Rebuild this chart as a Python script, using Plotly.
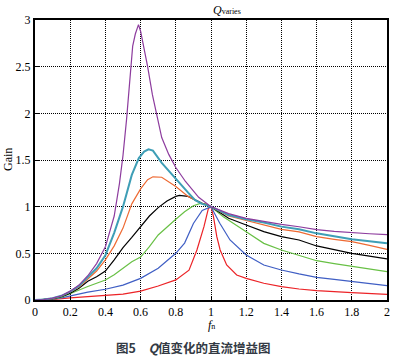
import plotly.graph_objects as go

# ---- data ----
fn_purple = [0, 0.05, 0.1, 0.15, 0.2, 0.25, 0.3, 0.35, 0.4, 0.45, 0.48, 0.5, 0.52, 0.54, 0.555, 0.57, 0.588, 0.6, 0.62, 0.64, 0.667, 0.69, 0.72, 0.76, 0.8, 0.855, 0.93, 1.0, 1.1, 1.2, 1.3, 1.4, 1.5, 1.6, 1.7, 1.8, 1.9, 2.0]
g_purple = [0, 0.005, 0.02, 0.045, 0.095, 0.16, 0.26, 0.39, 0.57, 0.9, 1.25, 1.55, 1.93, 2.35, 2.72, 2.85, 2.95, 2.88, 2.7, 2.5, 2.2, 2.0, 1.74, 1.56, 1.42, 1.27, 1.1, 1.0, 0.925, 0.875, 0.84, 0.81, 0.785, 0.755, 0.735, 0.72, 0.71, 0.70]

fn_cyan = [0, 0.05, 0.1, 0.15, 0.2, 0.25, 0.3, 0.35, 0.4, 0.45, 0.5, 0.55, 0.59, 0.62, 0.645, 0.67, 0.72, 0.77, 0.82, 0.87, 0.91, 0.95, 1.0, 1.1, 1.2, 1.3, 1.4, 1.5, 1.6, 1.7, 1.8, 1.9, 2.0]
g_cyan = [0, 0.005, 0.02, 0.045, 0.09, 0.15, 0.245, 0.34, 0.48, 0.72, 1.0, 1.34, 1.52, 1.59, 1.615, 1.6, 1.47, 1.36, 1.25, 1.15, 1.07, 1.03, 1.0, 0.91, 0.865, 0.83, 0.786, 0.757, 0.714, 0.68, 0.65, 0.63, 0.607]

fn_orange = [0, 0.05, 0.1, 0.15, 0.2, 0.25, 0.3, 0.35, 0.4, 0.45, 0.5, 0.55, 0.6, 0.64, 0.67, 0.72, 0.8, 0.87, 0.93, 0.97, 1.0, 1.1, 1.2, 1.3, 1.4, 1.5, 1.6, 1.7, 1.8, 1.9, 2.0]
g_orange = [0, 0.004, 0.018, 0.04, 0.085, 0.14, 0.225, 0.31, 0.43, 0.58, 0.77, 1.03, 1.19, 1.29, 1.32, 1.315, 1.215, 1.11, 1.05, 1.018, 1.0, 0.9, 0.85, 0.804, 0.757, 0.73, 0.679, 0.65, 0.625, 0.585, 0.543]

fn_black = [0, 0.05, 0.1, 0.15, 0.2, 0.25, 0.3, 0.35, 0.4, 0.45, 0.5, 0.55, 0.6, 0.65, 0.7, 0.75, 0.8, 0.82, 0.87, 0.92, 0.95, 1.0, 1.1, 1.2, 1.3, 1.4, 1.5, 1.6, 1.7, 1.8, 1.9, 2.0]
g_black = [0, 0.004, 0.015, 0.035, 0.072, 0.125, 0.2, 0.25, 0.31, 0.43, 0.56, 0.67, 0.78, 0.9, 0.99, 1.06, 1.11, 1.12, 1.11, 1.06, 1.035, 1.0, 0.875, 0.804, 0.732, 0.679, 0.643, 0.579, 0.54, 0.5, 0.47, 0.44]

fn_green = [0, 0.05, 0.1, 0.15, 0.2, 0.25, 0.3, 0.35, 0.4, 0.45, 0.5, 0.55, 0.6, 0.65, 0.7, 0.75, 0.8, 0.85, 0.9, 0.94, 0.97, 1.0, 1.07, 1.2, 1.3, 1.4, 1.5, 1.6, 1.7, 1.8, 1.9, 2.0]
g_green = [0, 0.003, 0.012, 0.03, 0.07, 0.11, 0.145, 0.18, 0.214, 0.27, 0.34, 0.41, 0.46, 0.571, 0.697, 0.786, 0.865, 0.946, 1.01, 1.035, 1.03, 1.0, 0.893, 0.732, 0.607, 0.536, 0.482, 0.421, 0.39, 0.364, 0.335, 0.304]

fn_blue = [0, 0.05, 0.1, 0.15, 0.2, 0.3, 0.4, 0.5, 0.6, 0.7, 0.8, 0.85, 0.9, 0.95, 1.0, 1.05, 1.108, 1.2, 1.3, 1.4, 1.5, 1.6, 1.7, 1.8, 1.9, 2.0]
g_blue = [0, 0.002, 0.008, 0.022, 0.045, 0.085, 0.115, 0.16, 0.232, 0.34, 0.5, 0.61, 0.82, 0.96, 1.0, 0.822, 0.643, 0.482, 0.375, 0.321, 0.279, 0.243, 0.22, 0.196, 0.175, 0.153]

fn_red = [0, 0.05, 0.1, 0.2, 0.3, 0.4, 0.5, 0.6, 0.7, 0.8, 0.875, 0.92, 0.96, 0.985, 1.0, 1.014, 1.033, 1.052, 1.089, 1.146, 1.2, 1.3, 1.4, 1.5, 1.6, 1.8, 2.0]
g_red = [0, 0.002, 0.005, 0.022, 0.035, 0.045, 0.064, 0.095, 0.15, 0.215, 0.32, 0.536, 0.786, 0.98, 1.0, 0.893, 0.679, 0.536, 0.375, 0.268, 0.232, 0.179, 0.143, 0.118, 0.1, 0.079, 0.061]

x_ticks = [0, 0.2, 0.4, 0.6, 0.8, 1, 1.2, 1.4, 1.6, 1.8, 2]
x_tick_labels = ["0", "0.2", "0.4", "0.6", "0.8", "1", "1.2", "1.4", "1.6", "1.8", "2"]
y_ticks = [0, 0.5, 1, 1.5, 2, 2.5, 3]
y_tick_labels = ["0", "0.5", "1", "1.5", "2", "2.5", "3"]

series = [
    (fn_red, g_red, "#EC2327", 1.2),
    (fn_blue, g_blue, "#3F5EC4", 1.2),
    (fn_green, g_green, "#68C045", 1.2),
    (fn_black, g_black, "#000000", 1.2),
    (fn_orange, g_orange, "#EE6A33", 1.2),
    (fn_cyan, g_cyan, "#3E9EB6", 2.0),
    (fn_purple, g_purple, "#8D3C9E", 1.2),
]

fig = go.Figure()
for xs, ys, col, w in series:
    fig.add_trace(go.Scatter(x=xs, y=ys, mode="lines",
                             line=dict(color=col, width=w), showlegend=False,
                             hoverinfo="skip"))

serif = "Liberation Serif, Times New Roman, serif"
axis_common = dict(
    showline=True, linecolor="black", linewidth=2, mirror=True,
    ticks="inside", ticklen=4, tickcolor="black", tickwidth=1,
    showgrid=True, gridcolor="black", gridwidth=1, griddash="1px,1px",
    zeroline=False,
    tickfont=dict(family=serif, size=12, color="black"),
)
fig.update_xaxes(range=[0, 2], tickvals=x_ticks, ticktext=x_tick_labels, **axis_common)
fig.update_yaxes(range=[0, 3], tickvals=y_ticks, ticktext=y_tick_labels, **axis_common)

fig.update_layout(
    width=398, height=357,
    margin=dict(l=35, r=8, t=20, b=57),
    paper_bgcolor="white", plot_bgcolor="white",
    showlegend=False,
    annotations=[
        dict(text="<i>Q</i><span style='font-size:8px'>varies</span>", xref="paper", yref="paper",
             x=0.501, y=1.0, xanchor="left", yanchor="bottom", yshift=1, showarrow=False,
             font=dict(family=serif, size=12, color="black")),
        dict(text="Gain", xref="paper", yref="paper", x=0, xshift=-27, y=0.5,
             textangle=-90, xanchor="center", yanchor="middle", showarrow=False,
             font=dict(family=serif, size=12, color="black")),
        dict(text="<i>f</i><span style='font-size:8px'>n</span>", xref="paper", yref="paper",
             x=0.5, y=0, yshift=-25, xanchor="center", yanchor="middle", showarrow=False,
             font=dict(family=serif, size=12, color="black")),
        dict(text="<b>图5　<i>Q</i>值变化的直流增益图</b>", xref="paper", yref="paper",
             x=0.45, y=0, yshift=-47, xanchor="center", yanchor="middle", showarrow=False,
             font=dict(family="Noto Sans CJK SC", size=12.5, color="#333a44")),
    ],
)

fig.write_html("out.html", config={"displayModeBar": False},
               post_script="document.body.style.margin='0';")
